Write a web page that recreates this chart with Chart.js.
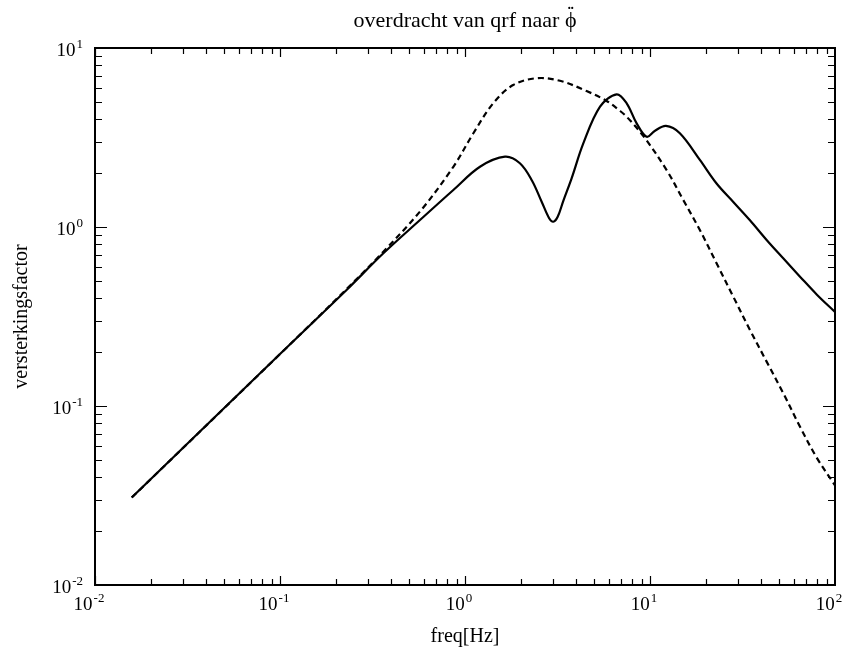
<!DOCTYPE html>
<html>
<head>
<meta charset="utf-8">
<script src="https://cdn.jsdelivr.net/npm/chart.js@4.4.0/dist/chart.umd.min.js"></script>
<style>
    html, body { margin: 0; padding: 0; background: #fff; }
    #wrap { width: 845px; height: 666px; }
</style>
</head>
<body>
<div id="wrap"><canvas id="chart"></canvas></div>
<script>
// solid curve
const freqSolid = [0.0158, 0.1, 0.229, 0.362, 0.571, 0.865, 1.205, 1.645, 1.98, 2.3, 2.6, 2.85, 3.0, 3.17, 3.4, 3.77, 4.36, 5.37, 6.6, 7.48, 8.47, 9.6, 10.6, 12.2, 14.5, 18.6, 22.9, 28.2, 34.7, 42.7, 52.5, 64.7, 79.6, 100];
const gainSolid = [0.0308, 0.195, 0.445, 0.713, 1.094, 1.61, 2.17, 2.47, 2.27, 1.82, 1.38, 1.12, 1.07, 1.14, 1.40, 1.87, 2.93, 4.70, 5.51, 4.91, 3.79, 3.19, 3.44, 3.67, 3.34, 2.37, 1.75, 1.38, 1.09, 0.846, 0.668, 0.528, 0.42, 0.335];

// dashed curve
const freqDashed = [0.0158, 0.1, 0.229, 0.362, 0.571, 0.865, 1.11, 1.42, 1.82, 2.44, 3.26, 4.54, 5.83, 6.89, 7.48, 9.19, 12.3, 15.1, 18.6, 22.9, 28.2, 34.7, 42.7, 52.5, 64.7, 79.6, 100];
const gainDashed = [0.0308, 0.195, 0.45, 0.728, 1.22, 2.17, 3.34, 4.91, 6.21, 6.78, 6.56, 5.75, 5.06, 4.45, 4.13, 3.23, 2.08, 1.42, 0.962, 0.627, 0.408, 0.266, 0.177, 0.118, 0.0766, 0.0515, 0.036];

// decade ticks, labels drawn as 10 with a raised exponent
const xTickValues = [0.01, 0.1, 1, 10, 100];
const xTickExps = ['-2', '-1', '0', '1', '2'];
const yTickValues = [0.01, 0.1, 1, 10];
const yTickExps = ['-2', '-1', '0', '1'];

const chartTitle = 'overdracht van qrf naar ';
const titleSymbol = 'ϕ';
const serif = '"Liberation Serif", "Times New Roman", serif';

function toPoints(xs, ys) {
    return xs.map((x, i) => ({ x: x, y: ys[i] }));
}

// draws "10" plus exponent, anchored at (x, baseline); align 'center' or 'right'
function drawPower(ctx, exp, x, baseline, align) {
    ctx.font = '19px ' + serif;
    const wBase = ctx.measureText('10').width;
    ctx.font = '13px ' + serif;
    const wExp = ctx.measureText(exp).width;
    const total = wBase + wExp + 1;
    const left = align === 'right' ? x - total : x - total / 2;
    ctx.textAlign = 'left';
    ctx.textBaseline = 'alphabetic';
    ctx.font = '19px ' + serif;
    ctx.fillText('10', left, baseline);
    ctx.font = '13px ' + serif;
    ctx.fillText(exp, left + wBase + 1, baseline - 8);
}

// box round the plot with inward log ticks on all four sides, tick labels and the title
const frameTicks = {
    id: 'frameTicks',
    afterDatasetsDraw(chart) {
        const { ctx, chartArea: a, scales } = chart;
        const x = scales.x, y = scales.y;
        ctx.save();
        ctx.strokeStyle = '#000';
        ctx.lineWidth = 1.2;
        ctx.beginPath();
        for (let d = -2; d < 2; d++) {
            for (let m = 1; m <= 9; m++) {
                const px = Math.round(x.getPixelForValue(m * Math.pow(10, d))) + 0.5;
                const len = m === 1 ? 9 : 6;
                ctx.moveTo(px, a.bottom); ctx.lineTo(px, a.bottom - len);
                ctx.moveTo(px, a.top); ctx.lineTo(px, a.top + len);
            }
        }
        for (let d = -2; d < 1; d++) {
            for (let m = 1; m <= 9; m++) {
                const py = Math.round(y.getPixelForValue(m * Math.pow(10, d))) + 0.5;
                const len = m === 1 ? 12 : 7;
                ctx.moveTo(a.left, py); ctx.lineTo(a.left + len, py);
                ctx.moveTo(a.right, py); ctx.lineTo(a.right - len, py);
            }
        }
        ctx.stroke();
        ctx.lineWidth = 2;
        ctx.strokeRect(a.left, a.top, a.right - a.left, a.bottom - a.top);

        ctx.fillStyle = '#000';
        xTickValues.forEach((v, i) => {
            drawPower(ctx, xTickExps[i], x.getPixelForValue(v) - 6, a.bottom + 25, 'center');
        });
        yTickValues.forEach((v, i) => {
            drawPower(ctx, yTickExps[i], a.left - 12, y.getPixelForValue(v) + 8, 'right');
        });

        // title, with the double dot set over the phi by hand
        ctx.font = '22px ' + serif;
        const wText = ctx.measureText(chartTitle).width;
        const wSym = ctx.measureText(titleSymbol).width;
        const left = (a.left + a.right) / 2 - (wText + wSym) / 2;
        ctx.textAlign = 'left';
        ctx.textBaseline = 'alphabetic';
        ctx.fillText(chartTitle + titleSymbol, left, 27);
        ctx.font = 'bold 18px ' + serif;
        ctx.textAlign = 'center';
        ctx.fillText('¨', left + wText + wSym / 2, 20);
        ctx.restore();
    }
};

new Chart(document.getElementById('chart'), {
    type: 'line',
    data: {
        datasets: [{
            label: 'solid',
            data: toPoints(freqSolid, gainSolid),
            borderColor: '#000',
            borderWidth: 2.2,
            pointRadius: 0,
            fill: false,
            tension: 0.35
        }, {
            label: 'dashed',
            data: toPoints(freqDashed, gainDashed),
            borderColor: '#000',
            borderWidth: 2.2,
            borderDash: [6, 4],
            pointRadius: 0,
            fill: false,
            tension: 0.35
        }]
    },
    options: {
        responsive: true,
        maintainAspectRatio: false,
        animation: false,
        layout: { padding: { top: 48, right: 10, left: 0, bottom: 0 } },
        plugins: {
            legend: { display: false },
            tooltip: { enabled: false }
        },
        scales: {
            x: {
                type: 'logarithmic',
                min: 0.01,
                max: 100,
                afterBuildTicks: s => { s.ticks = xTickValues.map(v => ({ value: v })); },
                afterFit: s => { s.height = 81; s.paddingLeft = 0; s.paddingRight = 0; },
                grid: { display: false },
                border: { display: false },
                ticks: { display: false },
                title: {
                    display: true,
                    text: 'freq[Hz]',
                    color: '#000',
                    font: { family: serif, size: 20 },
                    padding: { top: 4, bottom: 17 }
                }
            },
            y: {
                type: 'logarithmic',
                min: 0.01,
                max: 10,
                afterBuildTicks: s => { s.ticks = yTickValues.map(v => ({ value: v })); },
                afterFit: s => { s.width = 95; s.paddingTop = 0; s.paddingBottom = 0; },
                grid: { display: false },
                border: { display: false },
                ticks: { display: false },
                title: {
                    display: true,
                    text: 'versterkingsfactor',
                    color: '#000',
                    font: { family: serif, size: 20 },
                    padding: { top: 10, bottom: 0 }
                }
            }
        }
    },
    plugins: [frameTicks]
});
</script>
</body>
</html>
